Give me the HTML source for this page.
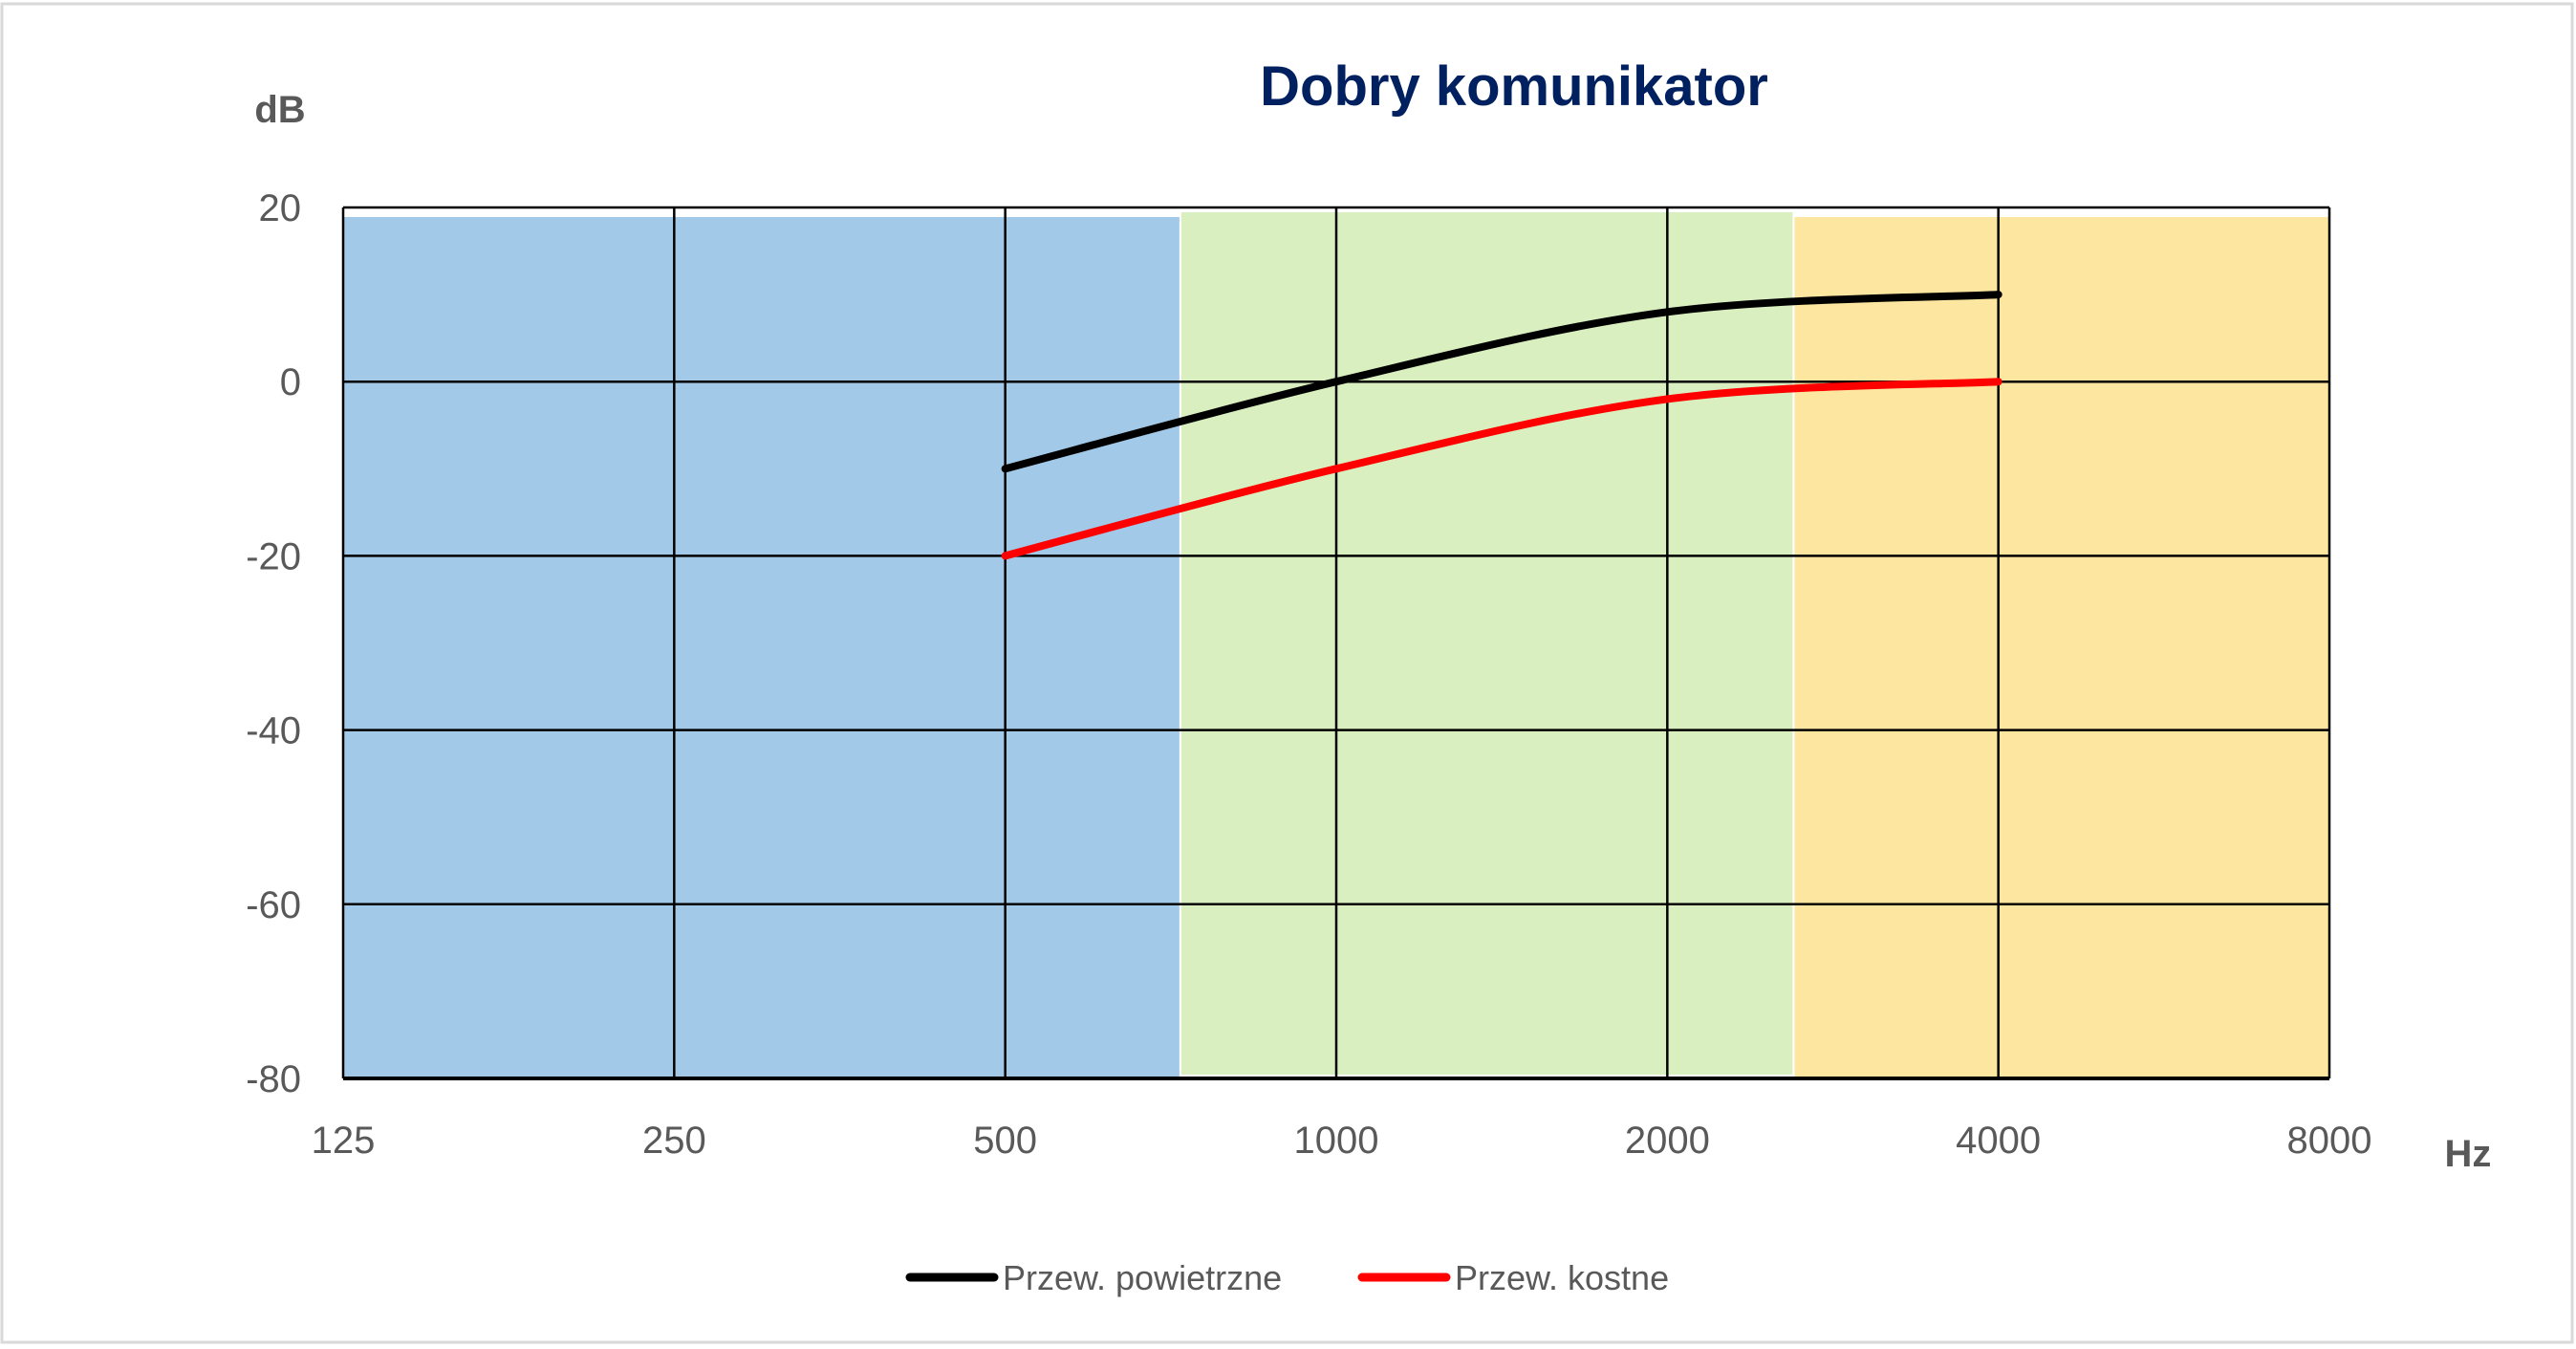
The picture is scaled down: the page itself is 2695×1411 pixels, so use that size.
<!DOCTYPE html>
<html><head><meta charset="utf-8"><style>
html,body{margin:0;padding:0;background:#fff;}
svg{display:block;font-family:"Liberation Sans",sans-serif;}
</style></head><body>
<svg id="chart" width="2695" height="1411" viewBox="0 0 2695 1411" xmlns="http://www.w3.org/2000/svg">
<rect x="2" y="4" width="2689" height="1400" fill="#fff" stroke="#d9d9d9" stroke-width="3"/>
<g id="bands"></g>
<g id="grid"></g>
<g id="series"></g>
<g id="labels"></g>
<text x="1584" y="110" text-anchor="middle" font-size="58" font-weight="bold" fill="#002060">Dobry komunikator</text>
<text x="293" y="128" text-anchor="middle" font-size="40" font-weight="bold" fill="#595959">dB</text>
<text x="2582" y="1220" text-anchor="middle" font-size="40" font-weight="bold" fill="#595959">Hz</text>
<g>
<line x1="952" y1="1336" x2="1040" y2="1336" stroke="#000" stroke-width="9" stroke-linecap="round"/>
<text x="1049" y="1349" font-size="36" fill="#595959">Przew. powietrzne</text>
<line x1="1425" y1="1336" x2="1513" y2="1336" stroke="#f00" stroke-width="9" stroke-linecap="round"/>
<text x="1522" y="1349" font-size="36" fill="#595959">Przew. kostne</text>
</g>
</svg>
<script>
const freqLabels = ["125","250","500","1000","2000","4000","8000"];
const dbTicks = [20,0,-20,-40,-60,-80];
const seriesFreqs = [500,1000,2000,4000];
const airValues = [-10,0,8,10];
const boneValues = [-20,-10,-2,0];
const bandEdges = [125,720,2600,8000];

const NS="http://www.w3.org/2000/svg";
const X0=359,X1=2437,Y0=217,Y1=1128;
function xs(f){return X0+(Math.log2(f/125)/6)*(X1-X0);}
function ys(v){return Y0+(20-v)/100*(Y1-Y0);}
function mk(tag,attrs,parent){const e=document.createElementNS(NS,tag);for(const k in attrs)e.setAttribute(k,attrs[k]);parent.appendChild(e);return e;}

const bands=document.getElementById('bands');
const bandColors=["#a3c9e8","#d9efc0","#fde6a0"];
const bandNames=["band-low","band-mid","band-high"];
for(let i=0;i<3;i++){
  const r=mk('rect',{x:xs(bandEdges[i])+(i>0?2:0),y:i==1?222:227,width:xs(bandEdges[i+1])-xs(bandEdges[i])-(i>0?2:0),height:Y1-(i==1?222:227)-(i==1?4:0),fill:bandColors[i]},bands);
  
  
}
const grid=document.getElementById('grid');
const labels=document.getElementById('labels');
dbTicks.forEach(v=>{
  const l=mk('line',{x1:X0,x2:X1,y1:ys(v),y2:ys(v),stroke:"#000","stroke-width":(v==-80?4:2.5)},grid);
  
  
  const t=mk('text',{x:315,y:ys(v)+14,"text-anchor":"end","font-size":40,fill:"#595959"},labels);
  t.textContent=String(v);
  
  
});
freqLabels.forEach(f=>{
  const x=xs(+f);
  const l=mk('line',{x1:x,x2:x,y1:Y0,y2:Y1,stroke:"#000","stroke-width":2.5},grid);
  
  
  const t=mk('text',{x:x,y:1206,"text-anchor":"middle","font-size":40,fill:"#595959"},labels);
  t.textContent=f;
  
  
});
function smoothPath(fs,vs){
  const p=fs.map((f,i)=>[xs(f),ys(vs[i])]);
  let d="M"+p[0][0]+","+p[0][1];
  for(let i=0;i<p.length-1;i++){
    const p0=p[i-1]||p[i],p1=p[i],p2=p[i+1],p3=p[i+2]||p[i+1];
    const t=1/6;
    d+=" C"+(p1[0]+(p2[0]-p0[0])*t)+","+(p1[1]+(p2[1]-p0[1])*t)+" "+(p2[0]-(p3[0]-p1[0])*t)+","+(p2[1]-(p3[1]-p1[1])*t)+" "+p2[0]+","+p2[1];
  }
  return d;
}
const series=document.getElementById('series');
const a=mk('path',{d:smoothPath(seriesFreqs,airValues),fill:"none",stroke:"#000","stroke-width":8,"stroke-linecap":"round"},series);


const b=mk('path',{d:smoothPath(seriesFreqs,boneValues),fill:"none",stroke:"#f00","stroke-width":8,"stroke-linecap":"round"},series);


</script>
</body></html>
